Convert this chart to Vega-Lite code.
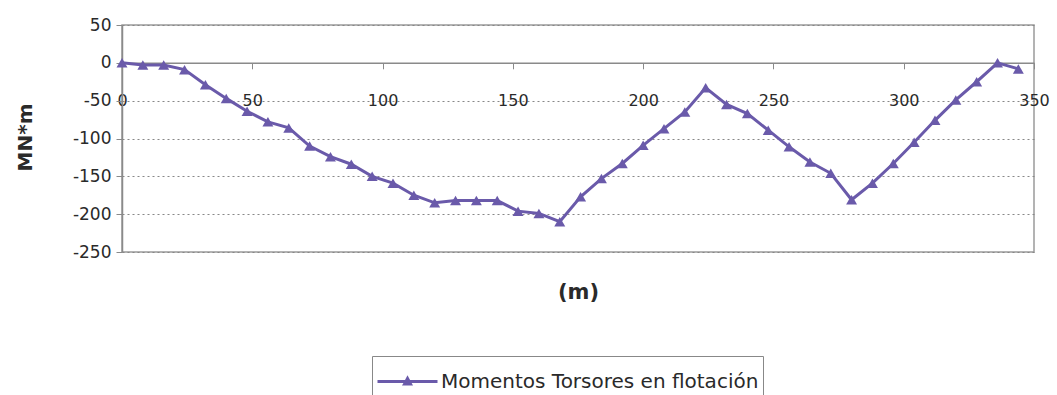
{
  "$schema": "https://vega.github.io/schema/vega-lite/v6.json",
  "width": 912,
  "height": 227,
  "autosize": "none",
  "padding": {"left": 122, "top": 25, "right": 23, "bottom": 143},
  "background": "white",
  "config": {
    "view": {"stroke": "#9a9a9a", "strokeWidth": 1.5},
    "font": "DejaVu Sans"
  },
  "data": {
    "values": [
      {"x": 0, "y": 0}, {"x": 8, "y": -3}, {"x": 16, "y": -3}, {"x": 24, "y": -9},
      {"x": 32, "y": -29}, {"x": 40, "y": -47}, {"x": 48, "y": -64}, {"x": 56, "y": -78},
      {"x": 64, "y": -86}, {"x": 72, "y": -110}, {"x": 80, "y": -124}, {"x": 88, "y": -134},
      {"x": 96, "y": -150}, {"x": 104, "y": -159}, {"x": 112, "y": -175}, {"x": 120, "y": -185},
      {"x": 128, "y": -182}, {"x": 136, "y": -182}, {"x": 144, "y": -182}, {"x": 152, "y": -196},
      {"x": 160, "y": -199}, {"x": 168, "y": -210}, {"x": 176, "y": -177}, {"x": 184, "y": -153},
      {"x": 192, "y": -133}, {"x": 200, "y": -109}, {"x": 208, "y": -87}, {"x": 216, "y": -65},
      {"x": 224, "y": -33}, {"x": 232, "y": -55}, {"x": 240, "y": -67}, {"x": 248, "y": -89},
      {"x": 256, "y": -111}, {"x": 264, "y": -131}, {"x": 272, "y": -146}, {"x": 280, "y": -181},
      {"x": 288, "y": -159}, {"x": 296, "y": -133}, {"x": 304, "y": -105}, {"x": 312, "y": -76},
      {"x": 320, "y": -49}, {"x": 328, "y": -25}, {"x": 336, "y": 0}, {"x": 344, "y": -8}
    ]
  },
  "mark": {
    "type": "line",
    "strokeWidth": 3,
    "point": {"shape": "triangle-up", "size": 120, "filled": true, "opacity": 1, "color": "#6a5aaa"}
  },
  "encoding": {
    "x": {
      "field": "x",
      "type": "quantitative",
      "scale": {"domain": [0, 350], "nice": false},
      "axis": {
        "title": "(m)",
        "values": [0, 50, 100, 150, 200, 250, 300, 350],
        "grid": false,
        "offset": -189.2,
        "domainColor": "#8a8a8a",
        "domainWidth": 1.5,
        "tickColor": "#8a8a8a",
        "tickSize": 6,
        "labelFontSize": 16,
        "labelColor": "#2a2a2a",
        "labelPadding": 24,
        "labelFlush": false,
        "labelOverlap": false,
        "titleFontSize": 21,
        "titleFontWeight": "bold",
        "titleColor": "#2a2a2a",
        "titleY": 230,
        "titleBaseline": "middle"
      }
    },
    "y": {
      "field": "y",
      "type": "quantitative",
      "scale": {"domain": [-250, 50], "nice": false},
      "axis": {
        "title": "MN*m",
        "values": [-250, -200, -150, -100, -50, 0, 50],
        "labelExpr": "replace(datum.label, '−', '-')",
        "grid": true,
        "gridDash": [2, 3],
        "gridColor": "#888888",
        "gridWidth": 1.2,
        "domainColor": "#8a8a8a",
        "domainWidth": 1.5,
        "tickColor": "#8a8a8a",
        "tickSize": 6,
        "labelFontSize": 17,
        "labelColor": "#2a2a2a",
        "labelPadding": 5,
        "labelOverlap": false,
        "titleFontSize": 20,
        "titleFontWeight": "bold",
        "titleColor": "#2a2a2a",
        "titleAngle": 270,
        "titleX": -97,
        "titleY": 112,
        "titleAlign": "center",
        "titleBaseline": "middle"
      }
    },
    "color": {
      "datum": "Momentos Torsores en flotación",
      "type": "nominal",
      "scale": {"range": ["#6a5aaa"]},
      "legend": {
        "title": null,
        "orient": "none",
        "legendX": 250,
        "legendY": 331,
        "strokeColor": "#888888",
        "padding": 4,
        "labelFontSize": 20,
        "labelColor": "#2a2a2a",
        "labelLimit": 500,
        "symbolType": "M-1.5,0H1.5M-0.15,0.13L0,-0.15L0.15,0.13Z",
        "symbolSize": 1600,
        "symbolStrokeWidth": 3,
        "symbolFillColor": "#6a5aaa",
        "symbolStrokeColor": "#6a5aaa",
        "symbolOffset": 10,
        "labelOffset": 12
      }
    }
  }
}
